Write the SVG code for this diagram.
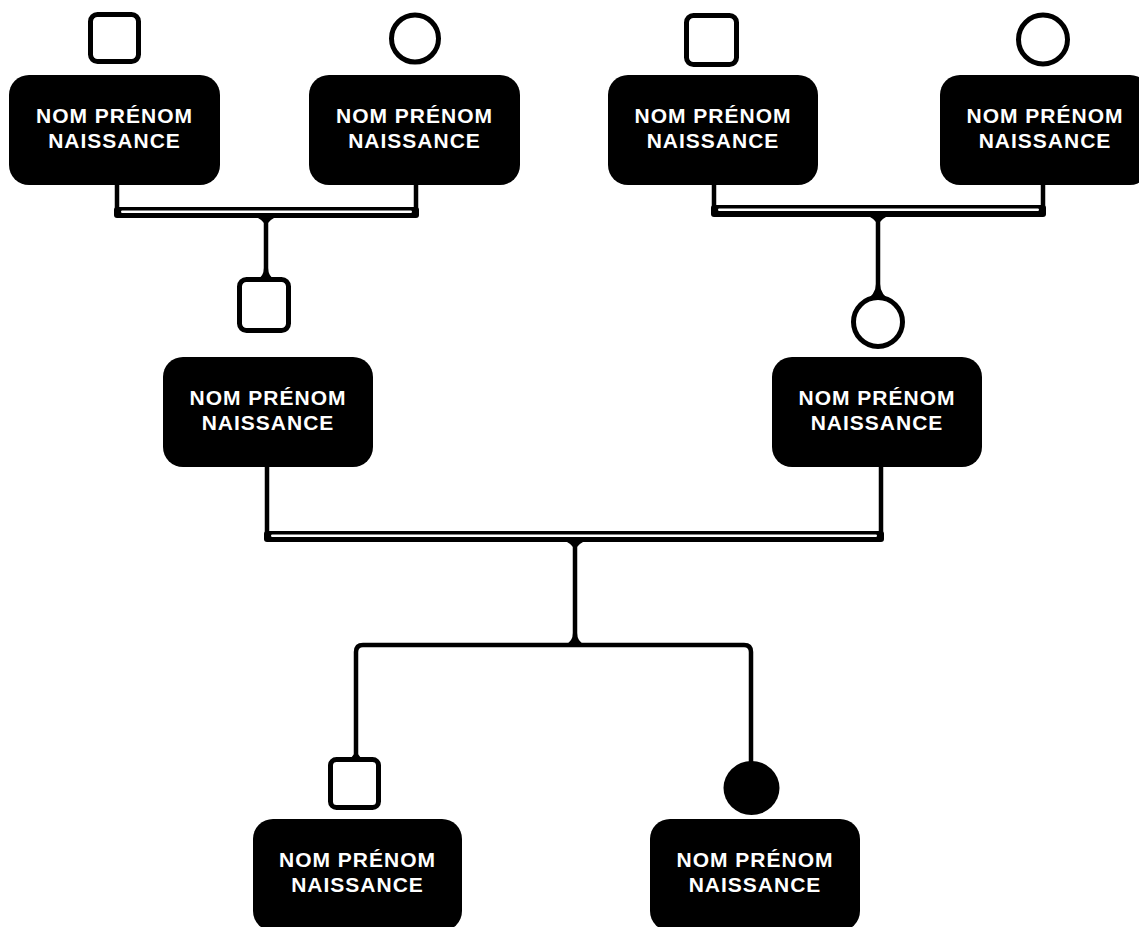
<svg xmlns="http://www.w3.org/2000/svg" width="1139" height="927" viewBox="0 0 1139 927">
<style>
.box{fill:#000}
.t{fill:#fff;font-family:"Liberation Sans",Arial,sans-serif;font-weight:bold;font-size:21px;letter-spacing:1px;text-anchor:middle}
.sym{fill:#fff;stroke:#000;stroke-width:5}
.ln{fill:none;stroke:#000;stroke-width:4.5;stroke-linecap:round;stroke-linejoin:round}
.bar{fill:#000}
.gap{fill:#fff}
</style>
<rect width="1139" height="927" fill="#fff"/>
<g id="connectors">
  <!-- top-left couple -->
  <path class="ln" d="M117 185 V212 M416 185 V212"/>
  <rect class="bar" x="114" y="207" width="305" height="11" rx="3"/>
  <rect class="gap" x="121" y="210.5" width="291" height="2.5" rx="1.2"/>
  <path class="ln" d="M266 218 V278"/>
  <path class="bar" d="M258 218 Q266 222 266 230 Q266 222 274 218 Z"/>
  <path class="bar" d="M256 281 Q264 276 264 268 L268 268 Q268 276 276 281 Z"/>
  <!-- top-right couple -->
  <path class="ln" d="M714 185 V210 M1043 185 V210"/>
  <rect class="bar" x="711" y="205" width="335" height="12" rx="3"/>
  <rect class="gap" x="718" y="208.5" width="321" height="2.5" rx="1.2"/>
  <path class="ln" d="M878 217 V296"/>
  <path class="bar" d="M870 217 Q878 221 878 229 Q878 221 886 217 Z"/>
  <path class="bar" d="M864 302 Q876 294 876 284 L880 284 Q880 294 892 302 Z"/>
  <!-- middle couple -->
  <path class="ln" d="M267 467 V536 M881 467 V536"/>
  <rect class="bar" x="264" y="531" width="620" height="11" rx="3"/>
  <rect class="gap" x="271" y="534.5" width="606" height="2.5" rx="1.2"/>
  <path class="ln" d="M575 542 V644"/>
  <path class="bar" d="M567 542 Q575 546 575 554 Q575 546 583 542 Z"/>
  <!-- children -->
  <path class="ln" d="M356 757 V652 Q356 645 363 645 H744 Q751 645 751 652 V765"/>
  <path class="bar" d="M565 645 Q573 641 573 633 L577 633 Q577 641 585 645 Z"/>
  <path class="bar" d="M348 760 Q356 755 356 747 Q356 755 364 760 Z"/>
</g>
<g id="n1">
  <rect class="sym" x="90.5" y="14.5" width="48" height="47" rx="7"/>
  <rect class="box" x="9" y="75" width="211" height="110" rx="20"/>
  <text class="t" x="114.5" y="123">NOM PRÉNOM</text>
  <text class="t" x="114.5" y="148">NAISSANCE</text>
</g>
<g id="n2">
  <circle class="sym" cx="415" cy="38.5" r="23.5"/>
  <rect class="box" x="309" y="75" width="211" height="110" rx="20"/>
  <text class="t" x="414.5" y="123">NOM PRÉNOM</text>
  <text class="t" x="414.5" y="148">NAISSANCE</text>
</g>
<g id="n3">
  <rect class="sym" x="686.5" y="15.5" width="50" height="49" rx="7"/>
  <rect class="box" x="608" y="75" width="210" height="110" rx="20"/>
  <text class="t" x="713" y="123">NOM PRÉNOM</text>
  <text class="t" x="713" y="148">NAISSANCE</text>
</g>
<g id="n4">
  <circle class="sym" cx="1043" cy="39.5" r="24.5"/>
  <rect class="box" x="940" y="75" width="210" height="110" rx="20"/>
  <text class="t" x="1045" y="123">NOM PRÉNOM</text>
  <text class="t" x="1045" y="148">NAISSANCE</text>
</g>
<g id="n5">
  <rect class="sym" x="239.5" y="279.5" width="49" height="51" rx="7"/>
  <rect class="box" x="163" y="357" width="210" height="110" rx="20"/>
  <text class="t" x="268" y="405">NOM PRÉNOM</text>
  <text class="t" x="268" y="430">NAISSANCE</text>
</g>
<g id="n6">
  <circle class="sym" cx="878" cy="322" r="24.5"/>
  <rect class="box" x="772" y="357" width="210" height="110" rx="20"/>
  <text class="t" x="877" y="405">NOM PRÉNOM</text>
  <text class="t" x="877" y="430">NAISSANCE</text>
</g>
<g id="n7">
  <rect class="sym" x="330.5" y="759.5" width="48" height="48" rx="6"/>
  <rect class="box" x="253" y="819" width="209" height="112" rx="20"/>
  <text class="t" x="357.5" y="867">NOM PRÉNOM</text>
  <text class="t" x="357.5" y="892">NAISSANCE</text>
</g>
<g id="n8">
  <ellipse cx="751.5" cy="788" rx="28" ry="27" fill="#000"/>
  <rect class="box" x="650" y="819" width="210" height="112" rx="20"/>
  <text class="t" x="755" y="867">NOM PRÉNOM</text>
  <text class="t" x="755" y="892">NAISSANCE</text>
</g>
</svg>
